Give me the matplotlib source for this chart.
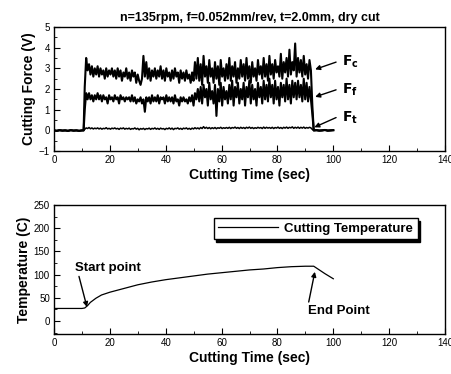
import numpy as np
import matplotlib
matplotlib.use("Agg")
import matplotlib.pyplot as plt
from matplotlib.ticker import MultipleLocator

plt.rcParams['font.family'] = ['Liberation Sans', 'DejaVu Sans']

title = "n=135rpm, f=0.052mm/rev, t=2.0mm, dry cut"

# ---- force signals (V), sampled during cutting, 11 s .. 92.5 s ----
fc = [2.1, 3.5, 2.9, 3.2, 2.7, 3.1, 2.6, 3.0, 2.7, 3.1,
      2.6, 3.0, 2.7, 2.9, 2.5, 3.0, 2.6, 2.9, 2.7, 3.0,
      2.6, 2.9, 2.5, 3.0, 2.6, 2.9, 2.4, 2.8, 2.6, 3.0,
      2.5, 2.8, 2.4, 2.9, 2.6, 2.8, 2.3, 2.7, 2.4, 2.2,
      2.5, 3.6, 2.6, 3.3, 2.5, 3.0, 2.4, 2.9, 2.6, 3.0,
      2.5, 2.9, 2.6, 3.1, 2.5, 2.9, 2.4, 3.0, 2.6, 2.8,
      2.4, 2.9, 2.5, 3.0, 2.6, 2.8, 2.3, 2.9, 2.5, 2.8,
      2.4, 2.9, 2.5, 2.7, 2.3, 2.8, 2.4, 3.3, 2.5, 3.5,
      2.4, 3.2, 2.2, 3.6, 2.6, 3.1, 2.3, 3.4, 2.6, 3.0,
      2.3, 3.3, 2.5, 3.1, 2.2, 3.4, 2.6, 3.0, 2.4, 3.2,
      2.5, 3.5, 2.4, 3.1, 2.6, 3.3, 2.3, 3.0, 2.5, 3.4,
      2.6, 3.2, 2.4, 3.5, 2.5, 3.1, 2.3, 3.3, 2.6, 3.0,
      2.4, 3.4, 2.7, 3.1, 2.5, 3.5, 2.6, 3.2, 2.4, 3.6,
      2.7, 3.2, 2.5, 3.4, 2.8, 3.1, 2.6, 3.7, 2.5, 3.3,
      2.8, 3.5, 2.6, 3.9, 2.7, 3.3, 2.9, 4.2, 2.6, 3.5,
      2.8, 3.4, 2.6, 3.6, 2.7, 3.2, 2.5, 3.4, 2.9, 1.2]

ff = [1.0, 1.8, 1.5, 1.8, 1.5, 1.7, 1.4, 1.7, 1.5, 1.8,
      1.5, 1.7, 1.4, 1.7, 1.5, 1.6, 1.3, 1.7, 1.5, 1.6,
      1.4, 1.7, 1.5, 1.6, 1.3, 1.7, 1.5, 1.6, 1.4, 1.6,
      1.5, 1.6, 1.4, 1.7, 1.4, 1.6, 1.3, 1.5, 1.4, 1.6,
      1.3, 1.5, 0.9, 1.6, 1.4, 1.6, 1.3, 1.7, 1.4, 1.6,
      1.4, 1.7, 1.3, 1.6, 1.5, 1.6, 1.3, 1.7, 1.4, 1.6,
      1.4, 1.6, 1.3, 1.7, 1.4, 1.5, 1.2, 1.6, 1.4, 1.6,
      1.4, 1.5, 1.3, 1.6, 1.4, 1.7, 1.2, 1.8, 1.5, 2.0,
      1.4, 2.1, 1.3, 2.2, 1.6, 2.0, 1.2, 2.3, 1.5, 1.9,
      1.3, 2.2, 0.7, 2.0, 1.4, 2.3, 1.2, 2.1, 1.5, 1.9,
      1.3, 2.2, 1.5, 2.4, 1.2, 2.1, 1.6, 2.3, 1.3, 2.0,
      1.5, 2.3, 1.2, 2.1, 1.6, 2.4, 1.3, 2.2, 1.5, 2.0,
      1.2, 2.3, 1.6, 2.1, 1.3, 2.4, 1.5, 2.2, 1.4, 2.5,
      1.6, 2.2, 1.3, 2.4, 1.5, 2.1, 1.2, 2.3, 1.6, 2.2,
      1.4, 2.5, 1.5, 2.2, 1.3, 2.4, 1.6, 2.3, 1.5, 2.4,
      1.6, 2.2, 1.4, 2.5, 1.5, 2.3, 1.4, 2.1, 1.5, 0.8]

ft = [0.05, 0.12, 0.09, 0.14, 0.08, 0.12, 0.07, 0.11, 0.08, 0.12,
      0.07, 0.11, 0.06, 0.10, 0.08, 0.13, 0.07, 0.10, 0.06, 0.11,
      0.08, 0.12, 0.07, 0.10, 0.05, 0.11, 0.08, 0.12, 0.06, 0.10,
      0.07, 0.11, 0.05, 0.09, 0.07, 0.12, 0.06, 0.10, 0.03, 0.09,
      0.06, 0.10, 0.04, 0.09, 0.07, 0.11, 0.05, 0.10, 0.07, 0.12,
      0.06, 0.10, 0.05, 0.11, 0.07, 0.09, 0.04, 0.10, 0.07, 0.12,
      0.06, 0.11, 0.04, 0.10, 0.08, 0.12, 0.06, 0.10, 0.05, 0.11,
      0.08, 0.12, 0.06, 0.10, 0.05, 0.11, 0.07, 0.13, 0.08, 0.12,
      0.07, 0.14, 0.09, 0.18, 0.10, 0.15, 0.09, 0.14, 0.08, 0.13,
      0.09, 0.14, 0.08, 0.13, 0.10, 0.15, 0.09, 0.13, 0.10, 0.14,
      0.10, 0.15, 0.09, 0.14, 0.11, 0.16, 0.10, 0.14, 0.09, 0.15,
      0.10, 0.14, 0.09, 0.15, 0.11, 0.16, 0.10, 0.14, 0.09, 0.13,
      0.10, 0.15, 0.11, 0.14, 0.09, 0.16, 0.10, 0.15, 0.11, 0.14,
      0.10, 0.15, 0.09, 0.14, 0.11, 0.16, 0.10, 0.14, 0.09, 0.15,
      0.11, 0.16, 0.10, 0.15, 0.12, 0.17, 0.10, 0.15, 0.11, 0.16,
      0.10, 0.15, 0.11, 0.16, 0.10, 0.14, 0.11, 0.15, 0.12, 0.05]

# idle baseline before and after the cut
idle_pre_t = [0, 1, 2, 3, 4, 5, 6, 7, 8, 9, 10, 10.6]
idle_pre_v = [0.0, -0.02, 0.01, -0.01, 0.0, -0.02, 0.01, -0.01, 0.0, -0.02, 0.0, 0.0]
idle_post_t = [93.0, 94, 95, 96, 97, 98, 99, 100]
idle_post_v = [0.0, 0.01, -0.01, 0.0, 0.02, -0.01, 0.0, 0.01]

# ---- temperature (C) ----
temp_t = [0, 5, 10, 11, 12, 13, 15, 17, 20, 25, 30, 35, 40, 45, 50, 55, 60,
          65, 70, 75, 80, 85, 90, 93, 95, 97, 100]
temp_v = [27, 27, 27, 28, 33, 40, 49, 56, 62, 70, 78, 84, 89, 93, 97, 101, 104,
          107, 110, 112, 115, 117, 118, 118, 110, 102, 91]

fig = plt.figure(figsize=(4.52, 3.74), dpi=100)
ax1 = fig.add_axes([0.1195, 0.596, 0.865, 0.332])
ax2 = fig.add_axes([0.1195, 0.107, 0.865, 0.345])

t_cut = np.linspace(11, 92.5, len(fc))
for series, lw in ((fc, 1.5), (ff, 1.5), (ft, 1.1)):
    tt = np.concatenate([idle_pre_t, t_cut, idle_post_t])
    vv = np.concatenate([idle_pre_v, series, idle_post_v])
    ax1.plot(tt, vv, color='black', lw=lw)

ax1.set_xlim(0, 140)
ax1.set_ylim(-1, 5)
ax1.xaxis.set_major_locator(MultipleLocator(20))
ax1.xaxis.set_minor_locator(MultipleLocator(10))
ax1.yaxis.set_major_locator(MultipleLocator(1))
ax1.yaxis.set_minor_locator(MultipleLocator(0.5))
ax1.set_xlabel("Cutting Time (sec)", fontsize=10, fontweight='bold', labelpad=2)
ax1.set_ylabel("Cutting Force (V)", fontsize=10, fontweight='bold', labelpad=2)
ax1.set_title(title, fontsize=9, fontweight='bold', pad=4)

def flabel(ax, sub, tail, head):
    ax.annotate("", xy=head, xytext=tail,
                arrowprops=dict(arrowstyle='-|>', color='black', lw=1.0,
                                mutation_scale=7, shrinkA=0, shrinkB=0))
    ax.text(tail[0] + 2.0, tail[1], r"$\mathbf{F}_{\mathbf{%s}}$" % sub,
            fontsize=10, ha='left', va='center')

flabel(ax1, 'c', (101, 3.3), (93.5, 2.95))
flabel(ax1, 'f', (101, 1.96), (93.5, 1.62))
flabel(ax1, 't', (101, 0.62), (93.2, 0.15))

ax2.plot(temp_t, temp_v, color='black', lw=0.9, label="Cutting Temperature")
ax2.set_xlim(0, 140)
ax2.set_ylim(-28, 250)
ax2.xaxis.set_major_locator(MultipleLocator(20))
ax2.xaxis.set_minor_locator(MultipleLocator(10))
ax2.yaxis.set_major_locator(MultipleLocator(50))
ax2.yaxis.set_minor_locator(MultipleLocator(25))
ax2.set_xlabel("Cutting Time (sec)", fontsize=10, fontweight='bold', labelpad=2)
ax2.set_ylabel("Temperature (C)", fontsize=10, fontweight='bold', labelpad=2)

ax2.annotate("Start point", xy=(11.8, 30), xytext=(7.5, 115),
             fontsize=9.5, fontweight='bold', ha='left', va='center',
             arrowprops=dict(arrowstyle='-|>', color='black', lw=1.0,
                             mutation_scale=7, shrinkA=0, shrinkB=0,
                             relpos=(0.05, 0)))
ax2.annotate("End Point", xy=(93.4, 106), xytext=(91, 22),
             fontsize=9.5, fontweight='bold', ha='left', va='center',
             arrowprops=dict(arrowstyle='-|>', color='black', lw=1.0,
                             mutation_scale=7, shrinkA=0, shrinkB=0,
                             relpos=(0.0, 1.0)))

leg = ax2.legend(loc='upper right', bbox_to_anchor=(0.93, 0.9), frameon=True,
                 fancybox=False, shadow={'color': 'black', 'alpha': 1.0},
                 edgecolor='black', framealpha=1.0,
                 prop={'size': 9.5, 'weight': 'bold'}, handlelength=4.5,
                 borderpad=0.35, handletextpad=0.5, borderaxespad=0)
leg.get_frame().set_linewidth(1.0)

for ax in (ax1, ax2):
    ax.tick_params(which='both', direction='in', labelsize=7, pad=3)
    ax.tick_params(which='major', length=4)
    ax.tick_params(which='minor', length=2)
    for s in ax.spines.values():
        s.set_linewidth(1.0)

fig.savefig("out.png", dpi=100)
